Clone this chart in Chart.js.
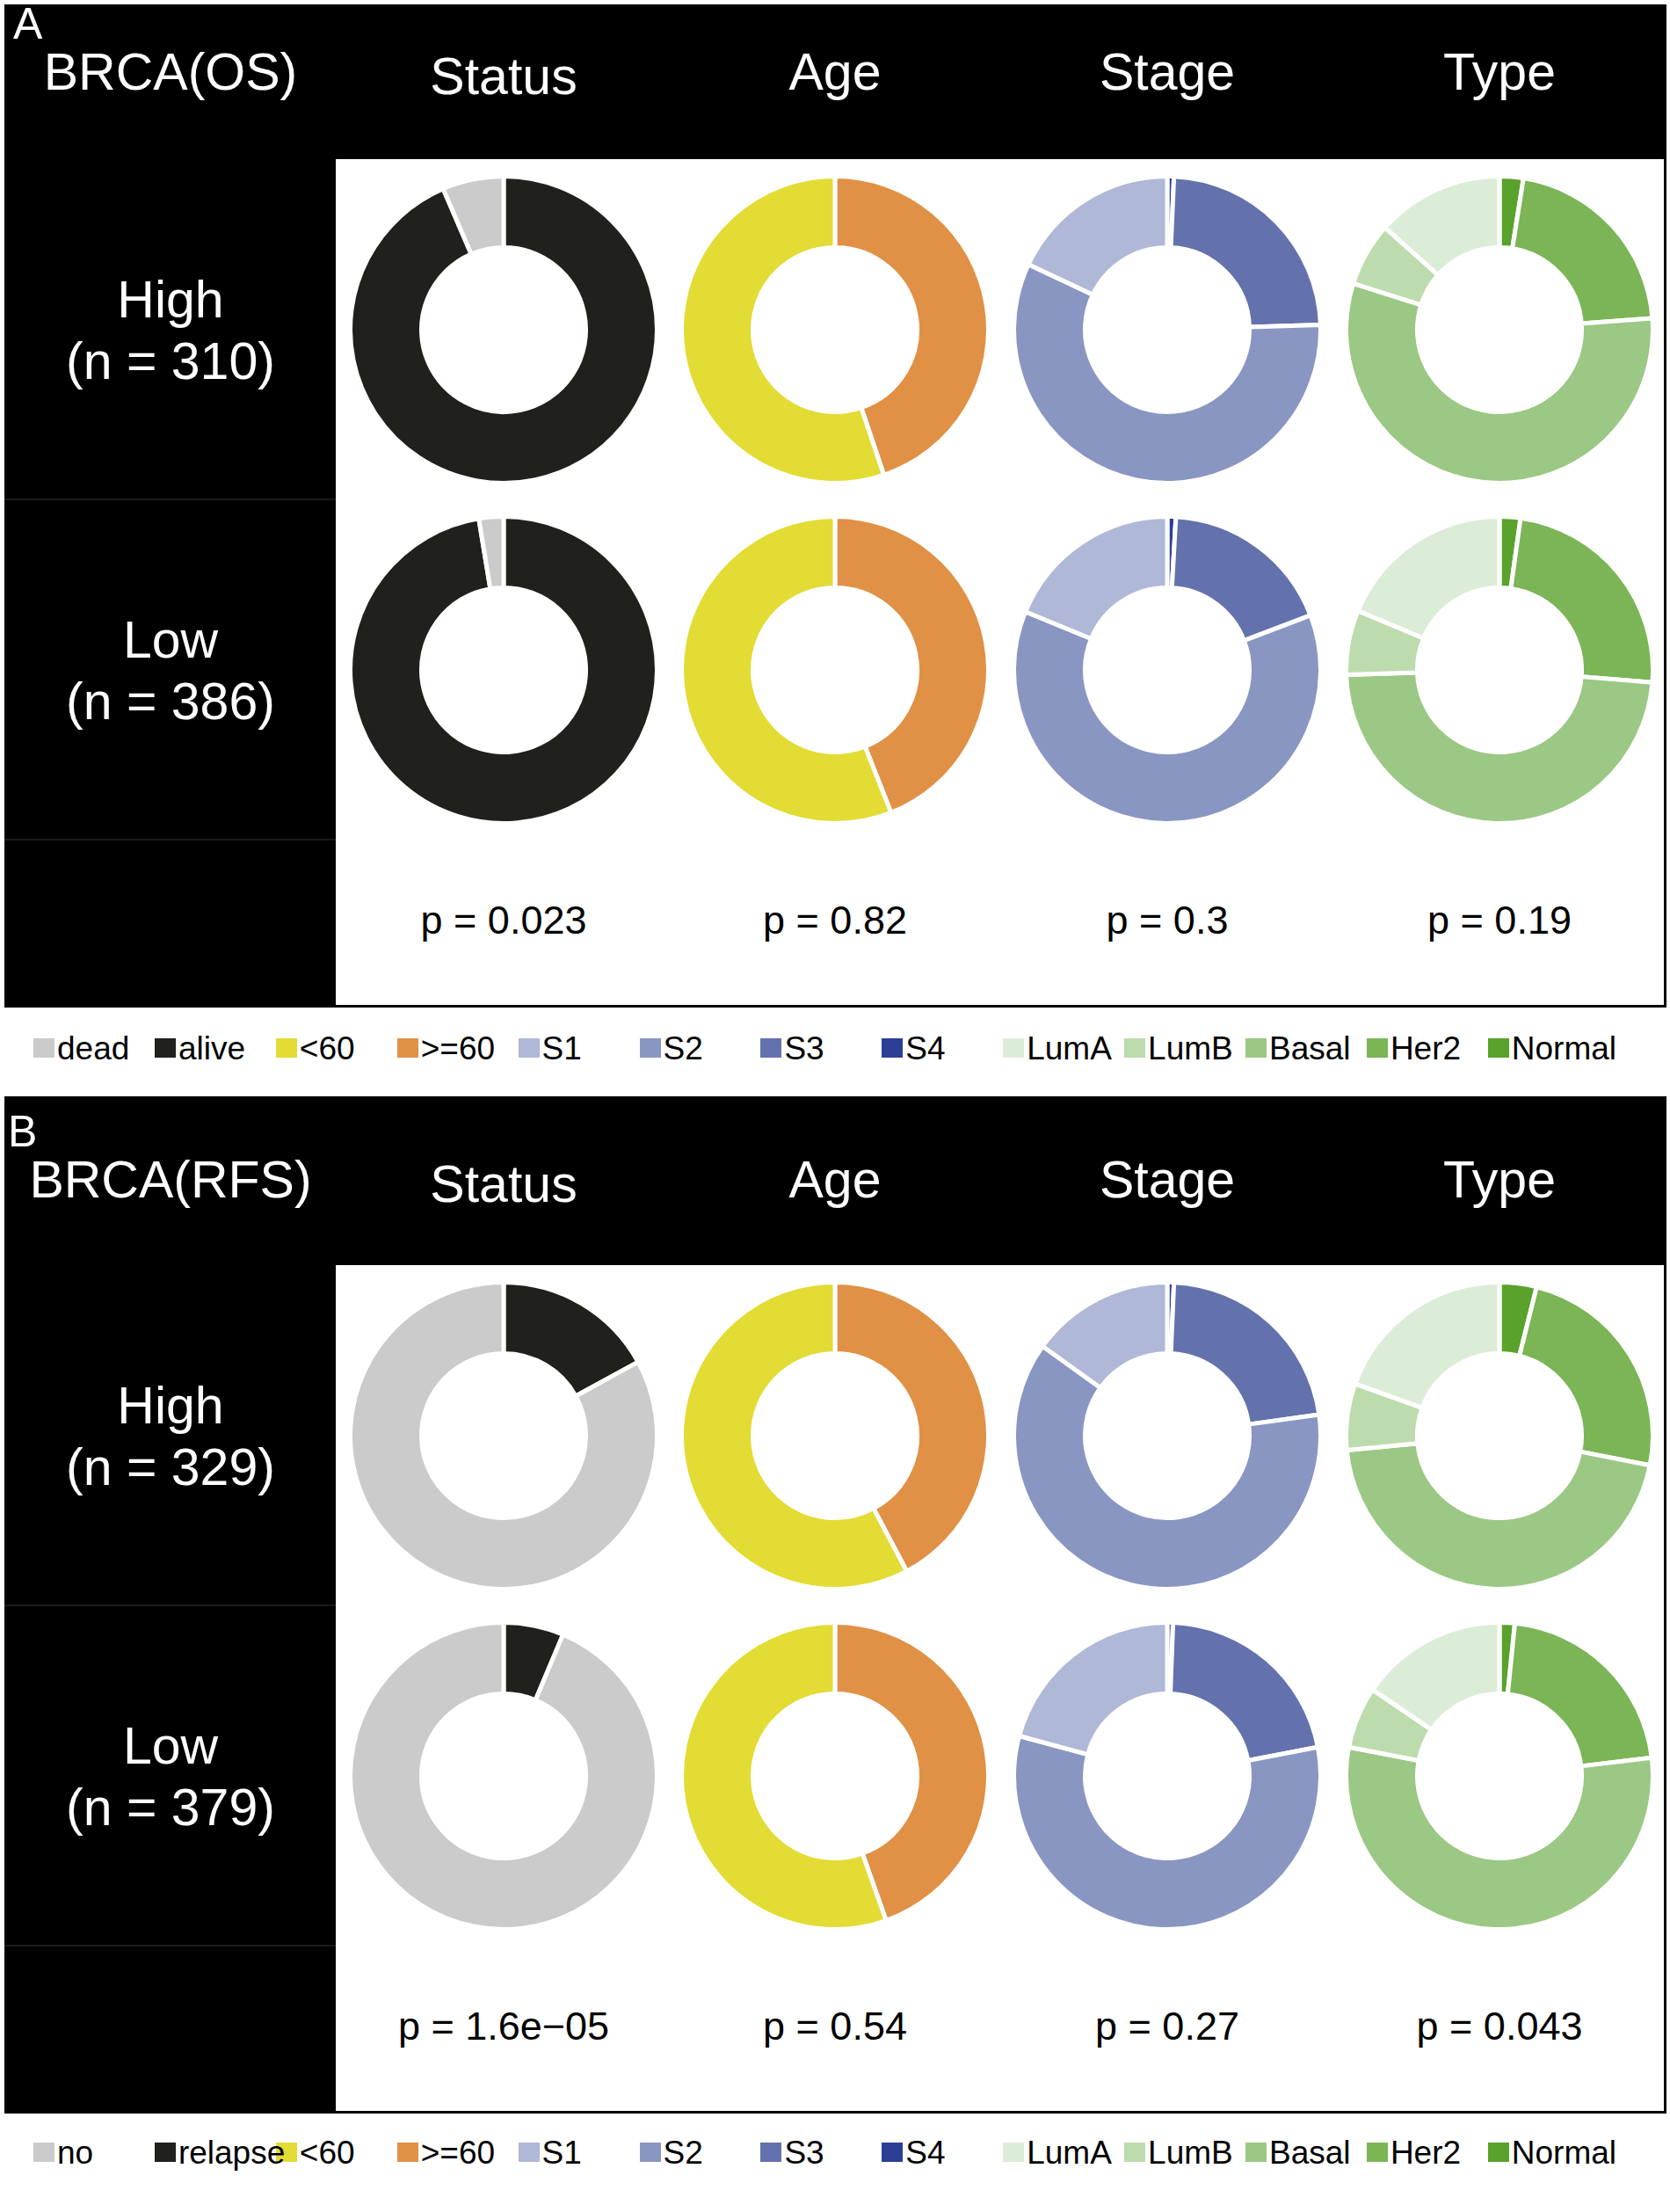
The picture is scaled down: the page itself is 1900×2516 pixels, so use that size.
<!DOCTYPE html>
<html>
<head>
<meta charset="utf-8">
<script src="https://cdn.jsdelivr.net/npm/chart.js@4.4.1/dist/chart.umd.min.js"></script>
<style>
  html, body { margin: 0; padding: 0; background: #fff; }
  body { width: 1900px; height: 2516px; position: relative; overflow: hidden;
         font-family: "Liberation Sans", Arial, sans-serif; }
  .blk { position: absolute; background: #000; }
  .wht { position: absolute; background: #fff; }
  .sep { position: absolute; background: #1a1a1a; height: 2px; }
  .txt { position: absolute; white-space: nowrap; line-height: 1; z-index: 2; }
  .sq  { position: absolute; z-index: 1; }
  .box { position: absolute; }
</style>
</head>
<body>
<script>
// ── BRCA donut grid · Chart.js 4 ─────────────────────────────────────────────

// ─ Categories (legend order) ─────────────────────────────────────────────────
const STATUS_OS  = ['dead', 'alive'];
const STATUS_RFS = ['no', 'relapse'];
const AGE_CATS   = ['<60', '>=60'];
const STAGE_CATS = ['S1', 'S2', 'S3', 'S4'];
const TYPE_CATS  = ['LumA', 'LumB', 'Basal', 'Her2', 'Normal'];
const COLUMNS    = ['Status', 'Age', 'Stage', 'Type'];
const ROWS       = ['High', 'Low'];

// ─ Values, panel A (OS) ──────────────────────────────────────────────────────
const OS_N           = [310, 386];
const OS_HIGH_STATUS = [20, 290];
const OS_LOW_STATUS  = [10, 376];
const OS_HIGH_AGE    = [171, 139];
const OS_LOW_AGE     = [216, 170];
const OS_HIGH_STAGE  = [18.0, 57.5, 23.8, 0.7];
const OS_LOW_STAGE   = [18.8, 62.0, 18.3, 0.9];
const OS_HIGH_TYPE   = [13.4, 6.7, 56.0, 21.3, 2.5];
const OS_LOW_TYPE    = [18.7, 6.8, 48.2, 24.1, 2.2];
const OS_P           = ['0.023', '0.82', '0.3', '0.19'];

// ─ Values, panel B (RFS) ─────────────────────────────────────────────────────
const RFS_N           = [329, 379];
const RFS_HIGH_STATUS = [273, 56];
const RFS_LOW_STATUS  = [355, 24];
const RFS_HIGH_AGE    = [190, 139];
const RFS_LOW_AGE     = [210, 169];
const RFS_HIGH_STAGE  = [15.1, 62.1, 22.1, 0.7];
const RFS_LOW_STAGE   = [20.8, 57.2, 21.4, 0.6];
const RFS_HIGH_TYPE   = [19.5, 7.0, 45.4, 24.2, 3.9];
const RFS_LOW_TYPE    = [15.5, 6.5, 54.9, 21.5, 1.6];
const RFS_P           = ['1.6e\u221205', '0.54', '0.27', '0.043'];

// ─ Colours ───────────────────────────────────────────────────────────────────
const STATUS_COLORS = ['#cbcbcb', '#20201c'];
const AGE_COLORS    = ['#e2dc35', '#e09145'];
const STAGE_COLORS  = ['#b0b8d8', '#8a96c2', '#6372ad', '#2c3f96'];
const TYPE_COLORS   = ['#dcedd7', '#bddcad', '#9bc884', '#7bb556', '#59a22c'];

// ─ Layout ────────────────────────────────────────────────────────────────────
const COL_X   = [573, 950, 1328, 1706];
const ROW_Y   = [375, 762];
const R_OUT   = 172;          // visible outer radius
const BORDER  = 5;            // white gap between slices
const CUTOUT  = '53.6%';
const LEG_X0  = 38;
const LEG_DX  = 137.9;

Chart.defaults.font.family = '"Liberation Sans", Arial, sans-serif';

// ─ Helpers ───────────────────────────────────────────────────────────────────
function el(cls, x, y, w, h, bg) {
  const d = document.createElement('div');
  d.className = cls;
  d.style.left = x + 'px';
  d.style.top = y + 'px';
  if (w != null) d.style.width = w + 'px';
  if (h != null) d.style.height = h + 'px';
  if (bg) d.style.background = bg;
  document.body.appendChild(d);
  return d;
}

// baseline-positioned text (Liberation Sans ascent .905 / descent .212)
function text(str, x, base, size, color, center) {
  const d = el('txt', x, base - 0.8465 * size);
  d.textContent = str;
  d.style.fontSize = size + 'px';
  d.style.color = color;
  if (center) d.style.transform = 'translateX(-50%)';
  return d;
}

function donut(cx, cy, cats, values, colors) {
  const S = 2 * (R_OUT + BORDER / 2) + BORDER;
  const box = el('box', cx - S / 2, cy - S / 2, S, S);
  const cv = document.createElement('canvas');
  box.appendChild(cv);
  // drawn clockwise from 12 o'clock in reverse legend order
  new Chart(cv, {
    type: 'doughnut',
    data: {
      labels: cats.slice().reverse(),
      datasets: [{
        data: values.slice().reverse(),
        backgroundColor: colors.slice().reverse(),
        borderColor: '#ffffff',
        borderWidth: BORDER,
        hoverOffset: 0,
      }]
    },
    options: {
      responsive: true,
      maintainAspectRatio: false,
      animation: false,
      events: [],
      cutout: CUTOUT,
      layout: { padding: 0 },
      plugins: { legend: { display: false }, tooltip: { enabled: false } }
    }
  });
}

// ─ Panels ────────────────────────────────────────────────────────────────────
const PANELS = [
  { tag: 'A', title: 'BRCA(OS)', top: 5, height: 1141, dy: 0, tdy: 0, ldy: 0,
    status: STATUS_OS, n: OS_N, p: OS_P,
    values: [[OS_HIGH_STATUS, OS_HIGH_AGE, OS_HIGH_STAGE, OS_HIGH_TYPE],
             [OS_LOW_STATUS,  OS_LOW_AGE,  OS_LOW_STAGE,  OS_LOW_TYPE]] },
  { tag: 'B', title: 'BRCA(RFS)', top: 1247, height: 1157, dy: 1258, tdy: 1260, ldy: 1256,
    status: STATUS_RFS, n: RFS_N, p: RFS_P,
    values: [[RFS_HIGH_STATUS, RFS_HIGH_AGE, RFS_HIGH_STAGE, RFS_HIGH_TYPE],
             [RFS_LOW_STATUS,  RFS_LOW_AGE,  RFS_LOW_STAGE,  RFS_LOW_TYPE]] },
];

PANELS.forEach(P => {
  // frame
  el('blk', 5, P.top, 1891, P.height);
  el('wht', 382, 181 + P.dy, 1511, 962);
  el('sep', 5, 567 + P.dy, 377);
  el('sep', 5, 954 + P.dy, 377);

  // header texts
  text(P.tag, P.tag === 'A' ? 15 : 9, 44 + P.tdy, 50, '#fff', false);
  text(P.title, 194, 103 + P.tdy, 59, '#fff', true);
  COLUMNS.forEach((c, j) => {
    text(c, COL_X[j], (c === 'Status' ? 108 : 103) + P.tdy, 59, '#fff', true);
  });

  // row labels
  ROWS.forEach((r, i) => {
    const y = ROW_Y[i] + P.dy;
    text(r, 194, y - 13, 59, '#fff', true);
    text('(n = ' + P.n[i] + ')', 194, y + 57, 59, '#fff', true);
  });

  // donuts
  const cats   = [P.status, AGE_CATS, STAGE_CATS, TYPE_CATS];
  const colors = [STATUS_COLORS, AGE_COLORS, STAGE_COLORS, TYPE_COLORS];
  P.values.forEach((row, i) => {
    row.forEach((vals, j) => donut(COL_X[j], ROW_Y[i] + P.dy, cats[j], vals, colors[j]));
  });

  // p-values
  P.p.forEach((p, j) => text('p = ' + p, COL_X[j], 1062 + P.dy, 45, '#000', true));

  // legend
  const legCats = [].concat(P.status, AGE_CATS, STAGE_CATS, TYPE_CATS);
  const legCols = [].concat(STATUS_COLORS, AGE_COLORS, STAGE_COLORS, TYPE_COLORS);
  legCats.forEach((c, k) => {
    const x = LEG_X0 + LEG_DX * k;
    el('sq', x, 1181 + P.ldy, 24, 22, legCols[k]);
    text(c, x + 27, 1205 + P.ldy, 37, '#000', false);
  });
});
</script>
</body>
</html>
